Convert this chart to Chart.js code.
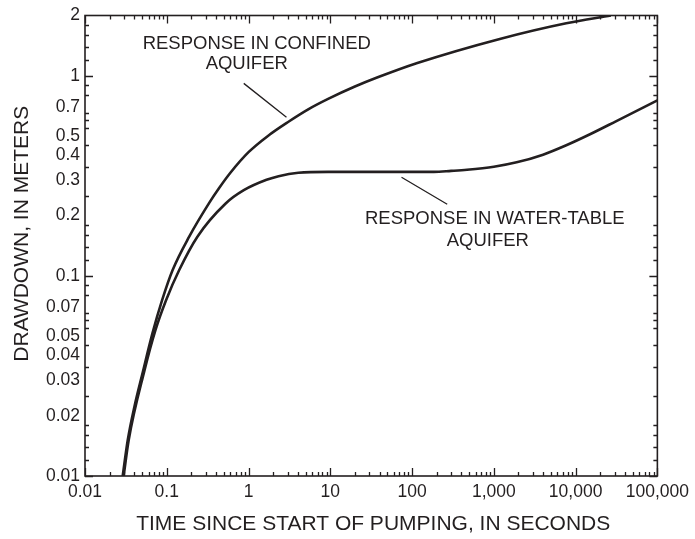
<!DOCTYPE html>
<html>
<head>
<meta charset="utf-8">
<script src="https://cdn.jsdelivr.net/npm/chart.js@4.4.1/dist/chart.umd.min.js"></script>
<style>
  html, body { margin: 0; padding: 0; background: #fff; }
  #wrap { width: 695px; height: 539px; }
</style>
</head>
<body>
<div id="wrap"><canvas id="chart" width="695" height="539"></canvas></div>
<script>
// Time since start of pumping (s) and drawdown (m)
const timeConfined = [0.0289, 0.0333, 0.0404, 0.0506, 0.0669, 0.0877, 0.118, 0.188, 0.329, 0.435, 0.60, 1.0, 1.71, 3.08, 5.5, 9.4, 20, 38, 116, 1183, 7690, 27000];
const drawdownConfined = [0.01, 0.0151, 0.0224, 0.0327, 0.0517, 0.0756, 0.107, 0.157, 0.231, 0.274, 0.3275, 0.415, 0.499, 0.589, 0.683, 0.766, 0.883, 0.982, 1.158, 1.528, 1.83, 2.0];

const timeWaterTable = [0.0297, 0.0342, 0.0535, 0.0727, 0.098, 0.142, 0.237, 0.525, 0.875, 1.66, 2.33, 4.07, 9.4, 28.8, 104, 185, 300, 470, 1000, 1901, 4000, 7690, 15000, 31100, 100000];
const drawdownWaterTable = [0.01, 0.0151, 0.0338, 0.0536, 0.0756, 0.107, 0.157, 0.230, 0.268, 0.302, 0.315, 0.3275, 0.331, 0.331, 0.331, 0.331, 0.3347, 0.339, 0.3509, 0.3692, 0.4033, 0.4494, 0.51, 0.592, 0.754];

const xTickValues = [0.01, 0.1, 1, 10, 100, 1000, 10000, 100000];
const xTickLabels = ['0.01', '0.1', '1', '10', '100', '1,000', '10,000', '100,000'];
const yTickValues = [0.01, 0.02, 0.03, 0.04, 0.05, 0.07, 0.1, 0.2, 0.3, 0.4, 0.5, 0.7, 1, 2];
const yTickLabels = ['0.01', '0.02', '0.03', '0.04', '0.05', '0.07', '0.1', '0.2', '0.3', '0.4', '0.5', '0.7', '1', '2'];

// minor tick multipliers inside each decade
const xMinorSteps = [2, 3, 4, 5, 6, 7, 8, 9];
const yMinorSteps = [1.2, 1.4, 1.6, 1.8, 2.5, 3.5, 4.5, 5.5, 6, 6.5, 8, 9];

// callout text and leader lines, in data units (time, drawdown)
const notes = [
  { text: 'RESPONSE IN CONFINED', at: [1.26, 1.45] },
  { text: 'AQUIFER', at: [0.951, 1.14] },
  { text: 'RESPONSE IN WATER-TABLE', at: [1028, 0.192] },
  { text: 'AQUIFER', at: [845, 0.149] }
];
const leaders = [
  [[0.874, 0.916], [2.91, 0.62]],
  [[74.3, 0.311], [269, 0.228]]
];

const INK = '#231f20';
const FONT = '"Liberation Sans", Arial, Helvetica, sans-serif';

function toPoints(xs, ys) {
  return xs.map((t, i) => ({ x: t, y: ys[i] }));
}

function isLabelled(v, list) {
  return list.some(l => Math.abs(v / l - 1) < 1e-6);
}

// frame, inward ticks, callouts and axis titles
const frameAndNotes = {
  id: 'frameAndNotes',
  afterDraw(chart) {
    const { ctx, chartArea: a, scales: { x, y } } = chart;
    ctx.save();
    ctx.strokeStyle = INK;
    ctx.fillStyle = INK;

    ctx.lineWidth = 1.6;
    ctx.strokeRect(a.left, a.top, a.right - a.left, a.bottom - a.top);

    // x ticks, bottom and top
    ctx.lineWidth = 1.3;
    ctx.beginPath();
    for (let d = 0.01; d < 100000 * 1.01; d *= 10) {
      const steps = [1].concat(d < 99999 ? xMinorSteps : []);
      steps.forEach(m => {
        const v = d * m;
        const px = Math.round(x.getPixelForValue(v)) + 0.5;
        const len = m === 1 ? 8 : 4;
        ctx.moveTo(px, a.bottom); ctx.lineTo(px, a.bottom - len);
        ctx.moveTo(px, a.top); ctx.lineTo(px, a.top + len);
      });
    }
    // y ticks, left and right
    for (let d = 0.01; d < 2; d *= 10) {
      [1].concat(yMinorSteps).forEach(m => {
        const v = d * m;
        if (v > 2.0001) return;
        const py = Math.round(y.getPixelForValue(v)) + 0.5;
        const len = isLabelled(v, yTickValues) ? 8 : 4;
        ctx.moveTo(a.left, py); ctx.lineTo(a.left + len, py);
        ctx.moveTo(a.right, py); ctx.lineTo(a.right - len, py);
      });
    }
    ctx.stroke();

    // leader lines
    ctx.lineWidth = 1.3;
    ctx.beginPath();
    leaders.forEach(([p, q]) => {
      ctx.moveTo(x.getPixelForValue(p[0]), y.getPixelForValue(p[1]));
      ctx.lineTo(x.getPixelForValue(q[0]), y.getPixelForValue(q[1]));
    });
    ctx.stroke();

    // callout text
    ctx.font = '18.5px ' + FONT;
    ctx.textAlign = 'center';
    ctx.textBaseline = 'middle';
    notes.forEach(n => {
      ctx.fillText(n.text, x.getPixelForValue(n.at[0]), y.getPixelForValue(n.at[1]));
    });

    // axis titles
    ctx.font = '21px ' + FONT;
    ctx.fillText('TIME SINCE START OF PUMPING, IN SECONDS', (a.left + a.right) / 2 + 2, a.bottom + 48);
    ctx.translate(22, (a.top + a.bottom) / 2 - 12);
    ctx.rotate(-Math.PI / 2);
    ctx.fillText('DRAWDOWN, IN METERS', 0, 0);
    ctx.restore();
  }
};

const curveStyle = {
  borderColor: INK,
  borderWidth: 2.6,
  pointRadius: 0,
  fill: false,
  cubicInterpolationMode: 'monotone'
};

new Chart(document.getElementById('chart'), {
  type: 'line',
  data: {
    datasets: [
      Object.assign({ label: 'Response in confined aquifer', data: toPoints(timeConfined, drawdownConfined) }, curveStyle),
      Object.assign({ label: 'Response in water-table aquifer', data: toPoints(timeWaterTable, drawdownWaterTable) }, curveStyle)
    ]
  },
  options: {
    responsive: false,
    animation: false,
    devicePixelRatio: 1,
    layout: { padding: { top: 15, right: 33, left: 0, bottom: 0 } },
    plugins: {
      legend: { display: false },
      tooltip: { enabled: false }
    },
    scales: {
      x: {
        type: 'logarithmic',
        min: 0.01,
        max: 100000,
        grid: { display: false, drawTicks: false },
        border: { display: false },
        afterBuildTicks: s => { s.ticks = xTickValues.map(v => ({ value: v })); },
        afterFit: s => { s.height = 63; },
        ticks: {
          autoSkip: false,
          maxRotation: 0,
          padding: 6,
          color: INK,
          font: { family: FONT, size: 17.5 },
          callback: v => xTickLabels[xTickValues.findIndex(t => Math.abs(t / v - 1) < 1e-6)]
        }
      },
      y: {
        type: 'logarithmic',
        min: 0.01,
        max: 2,
        grid: { display: false, drawTicks: false },
        border: { display: false },
        afterBuildTicks: s => { s.ticks = yTickValues.map(v => ({ value: v })); },
        afterFit: s => { s.width = 85; },
        ticks: {
          autoSkip: false,
          padding: 5,
          color: INK,
          font: { family: FONT, size: 17.5 },
          callback: v => yTickLabels[yTickValues.findIndex(t => Math.abs(t / v - 1) < 1e-6)]
        }
      }
    }
  },
  plugins: [frameAndNotes]
});
</script>
</body>
</html>
